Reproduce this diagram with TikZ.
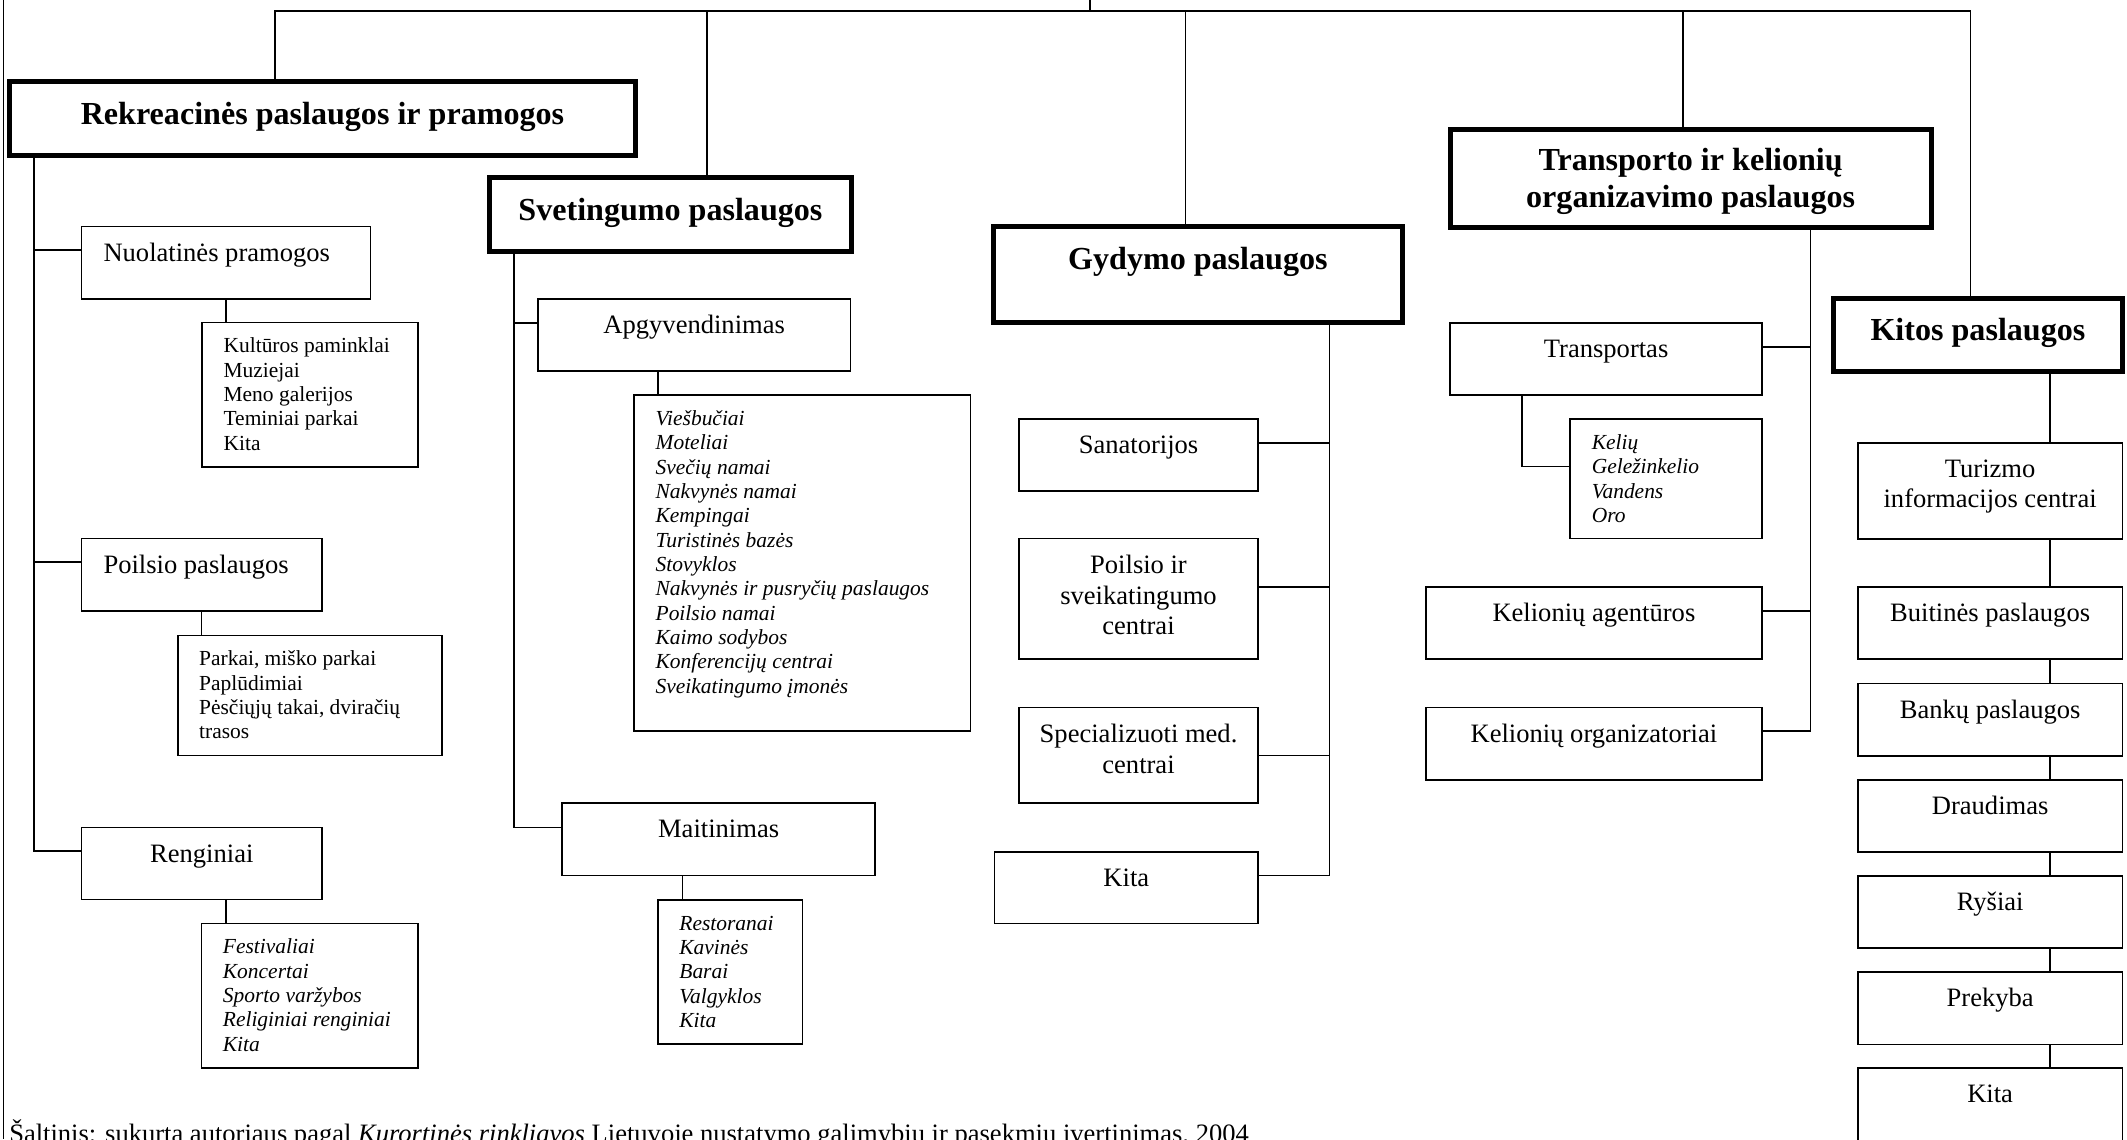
\documentclass[tikz,border=0pt]{standalone}
\usepackage{fontspec}
\setmainfont{Liberation Serif}
\usetikzlibrary{fit,calc}
\tikzset{
  ln/.style={line width=0.75pt},
  box/.style={draw, line width=0.75pt, inner sep=0pt, outer sep=0pt},
  head/.style={draw, line width=2.2pt, inner sep=0pt, outer sep=0pt},
  ttl/.style={anchor=base, align=center, inner sep=0pt, font=\bfseries\fontsize{14.5}{16.4}\selectfont},
  txt/.style={anchor=base, align=center, inner sep=0pt, font=\fontsize{12}{13.8}\selectfont},
  lst/.style={anchor=base west, align=left, inner sep=0pt, font=\fontsize{9.7}{11}\selectfont},
  ilst/.style={lst, font=\itshape\fontsize{9.7}{11}\selectfont},
}
\begin{document}
\begin{tikzpicture}[x=0.613pt, y=-0.613pt]
    \useasboundingbox (0,0) rectangle (1568,839.7);

    \node[head, fit={(7,60.3) (468.5,114.7)}] (rek) {};
    \node[head, fit={(361,131) (627.5,185.5)}] (svet) {};
    \node[head, fit={(732.5,166.8) (1033.6,238)}] (gyd) {};
    \node[head, fit={(1069,95.7) (1423.6,167.8)}] (trans) {};
    \node[head, fit={(1351.6,219.8) (1564.6,274)}] (kitos) {};

    \node[ttl] (rek-t) at ($(rek.north)+(0,31.5)$) {Rekreacinės paslaugos ir pramogos};
    \node[ttl] (svet-t) at ($(svet.north)+(0,31.5)$) {Svetingumo paslaugos};
    \node[ttl] (gyd-t) at ($(gyd.north)+(0,31.5)$) {Gydymo paslaugos};
    \node[ttl] (trans-t) at ($(trans.north)+(0,57)$) {Transporto ir kelionių\\organizavimo paslaugos};
    \node[ttl] (kitos-t) at ($(kitos.north)+(0,31)$) {Kitos paslaugos};

    \node[box, fit={(60,167) (273,220.6)}] (nuol) {};
    \node[box, fit={(149,237.8) (308,344.5)}] (nuolL) {};
    \node[box, fit={(60,397) (237.5,450.5)}] (poil) {};
    \node[box, fit={(131,468.5) (326,557)}] (poilL) {};
    \node[box, fit={(60,610) (237.5,663)}] (reng) {};
    \node[box, fit={(148.5,680.8) (308,787.5)}] (rengL) {};

    \node[txt, anchor=base west] (nuol-t) at ($(nuol.north west)+(16,25.6)$) {Nuolatinės pramogos};
    \node[lst] (nuolL-t) at ($(nuolL.north west)+(15.5,94.1)$) {Kultūros paminklai\\Muziejai\\Meno galerijos\\Teminiai parkai\\Kita};
    \node[txt, anchor=base west] (poil-t) at ($(poil.north west)+(16,25.6)$) {Poilsio paslaugos};
    \node[lst] (poilL-t) at ($(poilL.north west)+(15.5,76.1)$) {Parkai, miško parkai\\Paplūdimiai\\Pėsčiųjų takai, dviračių\\trasos};
    \node[txt] (reng-t) at ($(reng.north)+(0,25.6)$) {Renginiai};
    \node[ilst] (rengL-t) at ($(rengL.north west)+(15.5,94.1)$) {Festivaliai\\Koncertai\\Sporto varžybos\\Religiniai renginiai\\Kita};

    \node[box, fit={(396.5,220.4) (627,273.5)}] (apg) {};
    \node[box, fit={(467.5,291) (715.5,539)}] (apgL) {};
    \node[box, fit={(414.5,592) (645,645.4)}] (mait) {};
    \node[box, fit={(485,663.4) (591.5,769.8)}] (maitL) {};

    \node[txt] (apg-t) at ($(apg.north)+(0,25.6)$) {Apgyvendinimas};
    \node[ilst] (apgL-t) at ($(apgL.north west)+(15.5,220.1)$) {Viešbučiai\\Moteliai\\Svečių namai\\Nakvynės namai\\Kempingai\\Turistinės bazės\\Stovyklos\\Nakvynės ir pusryčių paslaugos\\Poilsio namai\\Kaimo sodybos\\Konferencijų centrai\\Sveikatingumo įmonės};
    \node[txt] (mait-t) at ($(mait.north)+(0,25.6)$) {Maitinimas};
    \node[ilst] (maitL-t) at ($(maitL.north west)+(15.5,94.1)$) {Restoranai\\Kavinės\\Barai\\Valgyklos\\Kita};

    \node[box, fit={(751,309) (927.6,362)}] (san) {};
    \node[box, fit={(751,397) (927.6,486)}] (sveik) {};
    \node[box, fit={(751,521.5) (927.6,592)}] (spec) {};
    \node[box, fit={(733,628) (927.6,680.8)}] (gkita) {};

    \node[txt] (san-t) at ($(san.north)+(0,25.6)$) {Sanatorijos};
    \node[txt] (sveik-t) at ($(sveik.north)+(0,70.8)$) {Poilsio ir\\sveikatingumo\\centrai};
    \node[txt] (spec-t) at ($(spec.north)+(0,48.5)$) {Specializuoti med.\\centrai};
    \node[txt] (gkita-t) at ($(gkita.north)+(0,25.6)$) {Kita};

    \node[box, fit={(1069,238) (1299,291)}] (trp) {};
    \node[box, fit={(1157.6,309) (1299,397)}] (trpL) {};
    \node[box, fit={(1051,432.5) (1299,486)}] (agent) {};
    \node[box, fit={(1051,521.5) (1299,575)}] (org) {};

    \node[txt] (trp-t) at ($(trp.north)+(0,25.6)$) {Transportas};
    \node[ilst] (trpL-t) at ($(trpL.north west)+(15.5,76.1)$) {Kelių\\Geležinkelio\\Vandens\\Oro};
    \node[txt] (agent-t) at ($(agent.north)+(0,25.6)$) {Kelionių agentūros};
    \node[txt] (org-t) at ($(org.north)+(0,25.6)$) {Kelionių organizatoriai};

    \node[box, fit={(1369.6,326.5) (1564.6,397.3)}] (tic) {};
    \foreach \n/\y in {buit/432.5, bank/503.8, draud/575, rys/645.7, prek/716.7, kkita/787.5}
        \node[box, fit={(1369.6,\y) (1564.6,\y+53.3)}] (\n) {};

    \node[txt] (tic-t) at ($(tic.north)+(0,47.7)$) {Turizmo\\informacijos centrai};
    \foreach \n/\t in {buit/Buitinės paslaugos, bank/Bankų paslaugos, draud/Draudimas, rys/Ryšiai, prek/Prekyba, kkita/Kita}
        \node[txt] (\n-t) at ($(\n.north)+(0,25.6)$) {\t};

    \coordinate (root) at (803.6,0);
    \draw[ln] (root) -- (803.6,8);
    \draw[ln] (rek.north -| 202.5,0) |- (1452.6,8) -- (kitos.north -| 1452.6,0);
    \draw[ln] (521,8) -- (svet.north -| 521,0);
    \draw[ln] (874,8) -- (gyd.north -| 874,0);
    \draw[ln] (1240.6,8) -- (trans.north -| 1240.6,0);

    \draw[ln] (rek.south -| 25,0) |- (reng.west |- 0,627.5);
    \draw[ln] (25,184.5) -- (nuol.west |- 0,184.5);
    \draw[ln] (25,414.5) -- (poil.west |- 0,414.5);
    \draw[ln] (nuol.south -| 166.5,0) -- (nuolL.north -| 166.5,0);
    \draw[ln] (poil.south -| 148.5,0) -- (poilL.north -| 148.5,0);
    \draw[ln] (reng.south -| 166.5,0) -- (rengL.north -| 166.5,0);

    \draw[ln] (svet.south -| 379,0) |- (mait.west |- 0,610);
    \draw[ln] (379,238) -- (apg.west |- 0,238);
    \draw[ln] (apg.south -| 485,0) -- (apgL.north -| 485,0);
    \draw[ln] (mait.south -| 503,0) -- (maitL.north -| 503,0);

    \draw[ln] (gyd.south -| 980,0) |- (gkita.east |- 0,645.4);
    \draw[ln] (san.east |- 0,326.5) -- (980,326.5);
    \draw[ln] (sveik.east |- 0,432.5) -- (980,432.5);
    \draw[ln] (spec.east |- 0,557) -- (980,557);

    \draw[ln] (trans.south -| 1334.6,0) |- (org.east |- 0,539);
    \draw[ln] (trp.east |- 0,256) -- (1334.6,256);
    \draw[ln] (agent.east |- 0,450.5) -- (1334.6,450.5);
    \draw[ln] (trp.south -| 1122,0) |- (trpL.west |- 0,344);

    \foreach \a/\b in {kitos/tic, tic/buit, buit/bank, bank/draud, draud/rys, rys/prek, prek/kkita}
        \draw[ln] (\a.south -| 1511,0) -- (\b.north -| 1511,0);

    \draw[ln] (2.5,0) -- (2.5,839.7);

    \node[anchor=base west, inner sep=0pt, font=\fontsize{12}{13.8}\selectfont] (src) at (6.5,842) {Šaltinis: sukurta autoriaus pagal \textit{Kurortinės rinkliavos} Lietuvoje nustatymo galimybių ir pasekmių įvertinimas, 2004};
\end{tikzpicture}
\end{document}
